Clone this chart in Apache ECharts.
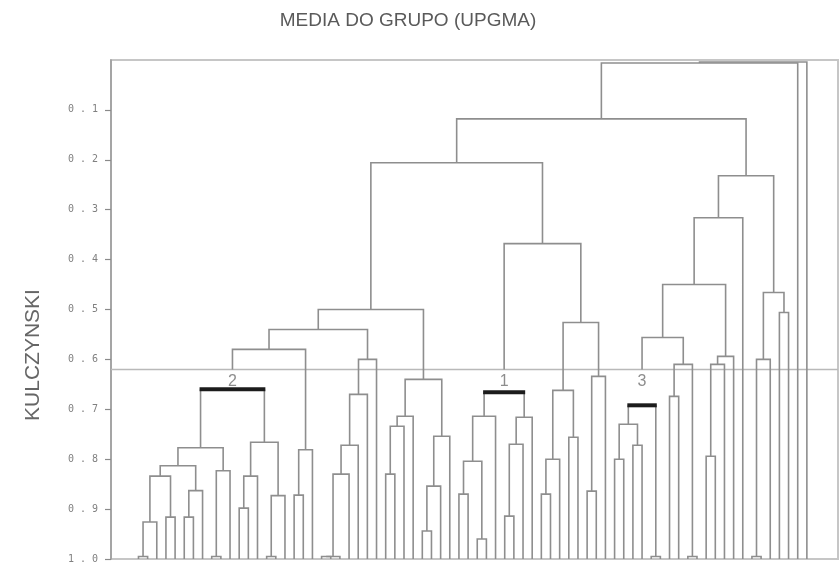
<!DOCTYPE html>
<html>
<head>
<meta charset="utf-8">
<script src="https://cdn.jsdelivr.net/npm/echarts@6/dist/echarts.min.js"></script>
<style>
  html, body { margin: 0; padding: 0; background: #ffffff; }
  #chart { width: 839px; height: 564px; }
</style>
</head>
<body>
<div id="chart"></div>
<script>
// Texts
const chartTitle = 'MEDIA DO GRUPO (UPGMA)';
const axisTitle = 'KULCZYNSKI';

// Similarity ticks on the vertical axis
const tickValues = [0.1, 0.2, 0.3, 0.4, 0.5, 0.6, 0.7, 0.8, 0.9, 1.0];

// Leaves are numbered 0..73 from left to right, all at similarity 1.0
const leafCount = 74;
const leafLevel = 1.0;

// Cut level and the three groups it defines
const cutLevel = 0.62;
const clusterNodes = ['c2', 'c1', 'c3'];
const clusterNames = ['2', '1', '3'];
const clusterLabelLevel = 0.644;

// UPGMA merges: [node, left child, right child, Kulczynski similarity]
// numbers refer to leaves, strings to earlier merges
const groupTwoMerges = [
  ['p0', 0, 1, 0.995],
  ['a1', 'p0', 2, 0.926],
  ['a2', 3, 4, 0.916],
  ['a3', 'a1', 'a2', 0.834],
  ['a4l', 5, 6, 0.916],
  ['a4', 'a4l', 7, 0.863],
  ['a5', 'a3', 'a4', 0.813],
  ['p8', 8, 9, 0.995],
  ['a6', 'p8', 10, 0.823],
  ['l2', 'a5', 'a6', 0.777],
  ['b0', 11, 12, 0.898],
  ['b1', 'b0', 13, 0.834],
  ['p14', 14, 15, 0.995],
  ['b2', 'p14', 16, 0.873],
  ['r2', 'b1', 'b2', 0.766],
  ['c2', 'l2', 'r2', 0.66]
];

const westMerges = [
  ['d0', 17, 18, 0.872],
  ['d1', 'd0', 19, 0.781],
  ['d', 'c2', 'd1', 0.58],
  ['p20', 20, 21, 0.995],
  ['p21', 'p20', 22, 0.995],
  ['e1', 'p21', 23, 0.83],
  ['e2', 'e1', 24, 0.772],
  ['e3', 'e2', 25, 0.67],
  ['e4', 'e3', 26, 0.6],
  ['f', 'd', 'e4', 0.54],
  ['g0', 27, 28, 0.83],
  ['g1', 'g0', 29, 0.734],
  ['g2', 'g1', 30, 0.714],
  ['h0', 31, 32, 0.944],
  ['h1', 'h0', 33, 0.854],
  ['h2', 'h1', 34, 0.754],
  ['g', 'g2', 'h2', 0.64],
  ['w', 'f', 'g', 0.5]
];

const groupOneMerges = [
  ['i0', 35, 36, 0.87],
  ['i0b', 37, 38, 0.96],
  ['i1', 'i0', 'i0b', 0.804],
  ['i2', 'i1', 39, 0.714],
  ['j0', 40, 41, 0.914],
  ['j1', 'j0', 42, 0.77],
  ['j2', 'j1', 43, 0.716],
  ['c1', 'i2', 'j2', 0.666],
  ['k0', 44, 45, 0.87],
  ['k1', 'k0', 46, 0.8],
  ['k2', 47, 48, 0.756],
  ['k3', 'k1', 'k2', 0.662],
  ['l0', 49, 50, 0.864],
  ['l1', 'l0', 51, 0.634],
  ['k', 'k3', 'l1', 0.526],
  ['m', 'c1', 'k', 0.368],
  ['west', 'w', 'm', 0.206]
];

const eastMerges = [
  ['n0', 52, 53, 0.8],
  ['n0b', 54, 55, 0.772],
  ['n1', 'n0', 'n0b', 0.73],
  ['p56', 56, 57, 0.995],
  ['c3', 'n1', 'p56', 0.692],
  ['o0', 58, 59, 0.674],
  ['p60', 60, 61, 0.995],
  ['o1', 'o0', 'p60', 0.61],
  ['o', 'c3', 'o1', 0.556],
  ['q0', 62, 63, 0.794],
  ['q1', 'q0', 64, 0.61],
  ['q2', 'q1', 65, 0.594],
  ['q', 'o', 'q2', 0.45],
  ['s', 'q', 66, 0.316],
  ['p67', 67, 68, 0.995],
  ['t0', 'p67', 69, 0.6],
  ['t1', 70, 71, 0.506],
  ['t', 't0', 't1', 0.466],
  ['east', 's', 't', 0.232]
];

const crownMerges = [
  ['main', 'west', 'east', 0.118],
  ['top1', 'main', 72, 0.006],
  ['root', 'top1', 73, 0.004]
];

// Horizontal extent of the plot, in leaf units
const xMin = -3;
const xMax = 76.4;

// ---- build node positions (leaf order on x, similarity on y)
const merges = [].concat(groupTwoMerges, westMerges, groupOneMerges, eastMerges, crownMerges);
const nodeX = {};
const nodeY = {};
function place(ref) {
  return typeof ref === 'number' ? [ref, leafLevel] : [nodeX[ref], nodeY[ref]];
}
const segments = merges.map(function (row) {
  const id = row[0], a = place(row[1]), b = place(row[2]), s = row[3];
  nodeX[id] = (a[0] + b[0]) / 2;
  nodeY[id] = s;
  const leftEnd = clusterNodes.indexOf(row[1]) >= 0 ? cutLevel : a[1];
  const rightEnd = clusterNodes.indexOf(row[2]) >= 0 ? cutLevel : b[1];
  const bold = clusterNodes.indexOf(id) >= 0 ? 1 : 0;
  return [a[0], leftEnd, b[0], rightEnd, s, bold];
});

const lineColor = '#8e8e8e';

function renderLink(params, api) {
  const lx = api.value(0), ly = api.value(1), rx = api.value(2), ry = api.value(3);
  const s = api.value(4), bold = api.value(5);
  const p1 = api.coord([lx, ly]);
  const p2 = api.coord([lx, s]);
  const p3 = api.coord([rx, s]);
  const p4 = api.coord([rx, ry]);
  if (!bold) {
    return {
      type: 'polyline',
      shape: { points: [p1, p2, p3, p4] },
      style: { stroke: lineColor, lineWidth: 1.6, fill: null }
    };
  }
  return {
    type: 'group',
    children: [
      { type: 'line', shape: { x1: p1[0], y1: p1[1], x2: p2[0], y2: p2[1] },
        style: { stroke: lineColor, lineWidth: 1.6 } },
      { type: 'line', shape: { x1: p3[0], y1: p3[1], x2: p4[0], y2: p4[1] },
        style: { stroke: lineColor, lineWidth: 1.6 } },
      { type: 'line', shape: { x1: p2[0] - 1, y1: p2[1], x2: p3[0] + 1, y2: p3[1] },
        style: { stroke: '#1c1c1c', lineWidth: 4 } }
    ]
  };
}

const chart = echarts.init(document.getElementById('chart'), null, { renderer: 'canvas' });

chart.setOption({
  animation: false,
  backgroundColor: '#ffffff',
  title: {
    text: chartTitle,
    left: 403,
    top: 6,
    textAlign: 'center',
    textStyle: { fontFamily: 'Liberation Sans', fontSize: 19, fontWeight: 'normal', color: '#5a5a5a' }
  },
  graphic: [
    {
      type: 'text',
      x: 33,
      y: 355,
      rotation: Math.PI / 2,
      style: {
        text: axisTitle,
        fontFamily: 'Liberation Sans',
        fontSize: 21,
        fill: '#666666',
        textAlign: 'center',
        textVerticalAlign: 'middle'
      }
    }
  ],
  grid: {
    left: 111, top: 60, right: 1, bottom: 4,
    show: true, borderColor: '#c6c6c6', borderWidth: 2, backgroundColor: 'transparent'
  },
  xAxis: {
    type: 'value', min: xMin, max: xMax, show: false
  },
  yAxis: {
    type: 'value',
    inverse: true,
    min: 0, max: 1, interval: 0.1,
    axisLine: { show: true, onZero: false, lineStyle: { color: '#9a9a9a', width: 1.5 } },
    axisTick: {
      show: true, length: 6, customValues: tickValues,
      lineStyle: { color: '#8a8a8a', width: 1.2 }
    },
    axisLabel: {
      margin: 13,
      customValues: tickValues,
      fontFamily: 'DejaVu Sans Mono',
      fontSize: 10,
      color: '#808080',
      formatter: function (v) {
        return v.toFixed(1).split('').join(' ');
      }
    },
    splitLine: { show: false }
  },
  series: [
    {
      type: 'line',
      silent: true,
      symbol: 'none',
      data: [[xMin, cutLevel], [xMax, cutLevel]],
      lineStyle: { color: '#b9b9b9', width: 1.5 },
      z: 1
    },
    {
      type: 'custom',
      silent: true,
      renderItem: renderLink,
      data: segments,
      encode: { x: [0, 2], y: [1, 3, 4] },
      z: 2
    },
    {
      type: 'scatter',
      silent: true,
      symbolSize: 0,
      data: clusterNodes.map(function (id, i) {
        return { value: [nodeX[id], clusterLabelLevel], name: clusterNames[i] };
      }),
      label: {
        show: true,
        position: 'inside',
        formatter: '{b}',
        fontFamily: 'Liberation Sans',
        fontSize: 16,
        color: '#707070'
      },
      z: 3
    }
  ]
});
</script>
</body>
</html>
